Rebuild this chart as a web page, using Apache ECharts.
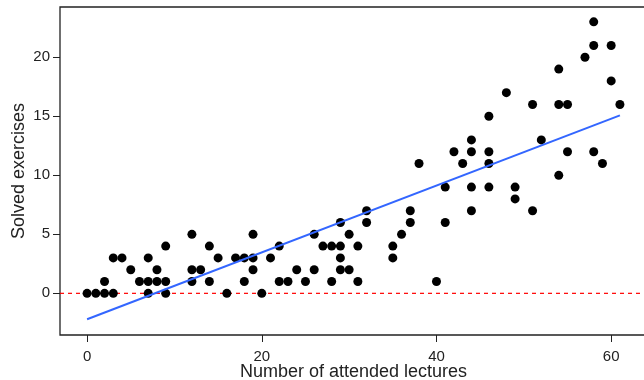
<!DOCTYPE html>
<html>
<head>
<meta charset="utf-8">
<script src="https://cdn.jsdelivr.net/npm/echarts@6/dist/echarts.min.js"></script>
<style>
  html, body { margin: 0; padding: 0; background: #fff; }
  #chart { width: 644px; height: 380px; }
</style>
</head>
<body>
<div id="chart"></div>
<script>
// Lectures attended by each student and the exercises they solved
const lectures = [0,1,2,2,3,3,4,5,6,7,7,7,8,8,9,9,9,12,12,12,13,14,14,15,16,17,18,18,19,19,19,20,21,22,22,23,24,25,26,26,27,28,28,29,29,29,29,30,30,31,31,32,32,35,35,36,37,37,38,40,41,41,42,43,44,44,44,44,46,46,46,46,48,49,49,51,51,52,54,54,54,55,55,57,58,58,58,59,60,60,61];
const solved   = [0,0,0,1,0,3,3,2,1,0,1,3,1,2,0,1,4,1,2,5,2,1,4,3,0,3,1,3,2,3,5,0,3,1,4,1,2,1,2,5,4,1,4,2,3,4,6,2,5,1,4,6,7,3,4,5,6,7,11,1,6,9,12,11,7,9,12,13,9,11,12,15,17,8,9,7,16,13,10,16,19,12,16,20,12,21,23,11,18,21,16];

const xTicks = [0, 20, 40, 60];
const yTicks = [0, 5, 10, 15, 20];
const xRange = [-3.1, 64.1];
const yRange = [-3.53, 24.26];

// Ordinary least squares fit of solved exercises on attended lectures
function linearFit(xs, ys) {
  const n = xs.length;
  const mx = xs.reduce((a, b) => a + b, 0) / n;
  const my = ys.reduce((a, b) => a + b, 0) / n;
  let sxy = 0, sxx = 0;
  for (let i = 0; i < n; i++) {
    sxy += (xs[i] - mx) * (ys[i] - my);
    sxx += (xs[i] - mx) * (xs[i] - mx);
  }
  const slope = sxy / sxx;
  return { slope, intercept: my - slope * mx };
}

const fit = linearFit(lectures, solved);
const xLo = Math.min(...lectures), xHi = Math.max(...lectures);
const fitLine = [xLo, xHi].map(x => [x, fit.intercept + fit.slope * x]);
const points = lectures.map((x, i) => [x, solved[i]]);
// horizontal reference at zero spanning the whole plotting region
const zeroLine = xRange.map(x => [x, 0]);

const FONT = '"Liberation Sans", Arial, sans-serif';
const INK = '#222';

const chart = echarts.init(document.getElementById('chart'), null, { renderer: 'canvas' });
chart.setOption({
  animation: false,
  backgroundColor: '#fff',
  grid: {
    left: 60, top: 7, width: 587, height: 328,
    containLabel: false, outerBoundsMode: 'none',
    show: true, borderColor: INK, borderWidth: 1.3, backgroundColor: 'transparent'
  },
  xAxis: {
    type: 'value', min: xRange[0], max: xRange[1],
    name: 'Number of attended lectures',
    nameLocation: 'middle', nameGap: 28, nameMoveOverlap: false,
    nameTextStyle: { fontFamily: FONT, fontSize: 18, color: INK },
    axisLine: { show: false, onZero: false },
    splitLine: { show: false },
    axisTick: { show: true, inside: false, customValues: xTicks, length: 7, lineStyle: { color: INK, width: 1 } },
    axisLabel: { customValues: xTicks, fontFamily: FONT, fontSize: 15, color: INK, margin: 14 }
  },
  yAxis: {
    type: 'value', min: yRange[0], max: yRange[1],
    name: 'Solved exercises',
    nameLocation: 'middle', nameGap: 32, nameRotate: 90, nameMoveOverlap: false,
    nameTextStyle: { fontFamily: FONT, fontSize: 18, color: INK },
    axisLine: { show: false, onZero: false },
    splitLine: { show: false },
    axisTick: { show: true, inside: false, customValues: yTicks, length: 7, lineStyle: { color: INK, width: 1 } },
    axisLabel: { customValues: yTicks, fontFamily: FONT, fontSize: 15, color: INK, margin: 10 }
  },
  series: [
    {
      type: 'line',
      data: zeroLine,
      symbol: 'none',
      silent: true,
      lineStyle: { color: '#ff0000', type: [4, 4], width: 1.2 },
      z: 2
    },
    {
      type: 'scatter',
      data: points,
      symbol: 'circle',
      symbolSize: 9,
      itemStyle: { color: '#000', opacity: 1 },
      z: 3
    },
    {
      type: 'line',
      data: fitLine,
      symbol: 'none',
      lineStyle: { color: '#3366ff', width: 2 },
      z: 4
    }
  ]
});
</script>
</body>
</html>
